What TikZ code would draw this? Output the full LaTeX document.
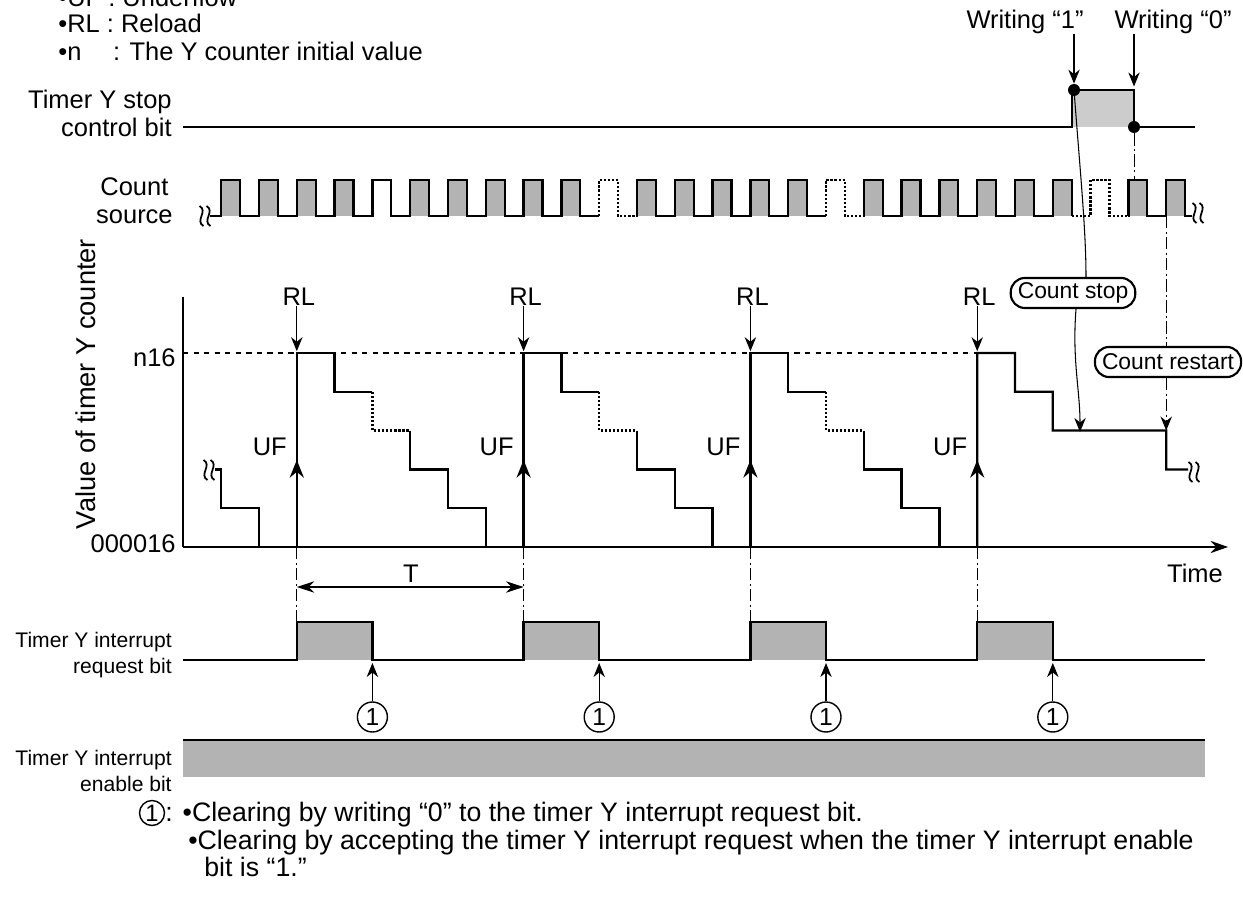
\documentclass[tikz,border=0pt]{standalone}
\usepackage{fontspec}
\setmainfont{Liberation Sans}
\usetikzlibrary{arrows.meta,positioning,shapes}

\definecolor{pulsegray}{HTML}{B3B3B3}
\definecolor{stopgray}{HTML}{CCCCCC}

\tikzset{
  sig/.style={line width=1.3pt},
  axis/.style={line width=0.6pt},
  dashdot/.style={line width=0.5pt,dash pattern=on 7pt off 2pt on 1pt off 2pt},
  arr/.style={line width=0.6pt,-{Stealth[length=8pt,width=6.5pt]}},
  uparr/.style={line width=1.3pt,-{Stealth[length=10pt,width=8pt]}},
  txt/.style={inner sep=0pt,font=\fontsize{14.5}{16}\selectfont},
  stxt/.style={inner sep=0pt,font=\fontsize{12}{15}\selectfont},
  ftxt/.style={inner sep=0pt,anchor=base west,font=\fontsize{15.2}{17}\selectfont},
  tag/.style={draw,rounded corners=8pt,line width=1.2pt,inner xsep=4pt,inner ysep=0pt,
    minimum height=0.6cm,font=\fontsize{13}{14}\selectfont},
  one/.style={draw,circle,line width=0.8pt,inner sep=0pt,minimum size=0.6cm,
    font=\fontsize{14}{14}\selectfont},
  dot/.style={circle,fill,inner sep=0pt,minimum size=0.24cm},
  brk/.pic={\foreach \dx in {-3.5,3.5}
    \draw[line width=1pt] (\dx-2,-10) .. controls (\dx+7,-5) and (\dx-7,5) .. (\dx+2,10);}
}

\begin{document}
\begin{tikzpicture}[x=0.02cm,y=-0.02cm]
\useasboundingbox (0,0) rectangle (1243,908);

% key
\node[txt,anchor=base west] (kuf) at (58,7) {•UF : Underflow};
\node[txt,anchor=base west] (krl) at (58,33) {•RL : Reload};
\node[txt,anchor=base west] (kn) at (58,61) {•\makebox[1.8em][l]{n}: The Y counter initial value};

% timer Y stop control bit
\node[txt,align=right,anchor=east] (lstop) at (172,113) {Timer Y stop\\control bit};
\fill[stopgray] (1072,90) rectangle (1134,127);
\draw[sig] (183,127) -- (1072,127) -- (1072,90) -- (1134,90) -- (1134,127) -- (1195,127);
\node[dot] (w1) at (1074,90) {};
\node[dot] (w0) at (1134,127) {};
\coordinate (s0) at (1134,90);
\node[txt] (wr1) at (1025,22) {Writing “1”};
\node[txt] (wr0) at (1173,22) {Writing “0”};
\draw[arr] (wr1.south -| w1) -- (w1.north);
\draw[arr,shorten >=2pt] (wr0.south -| s0) -- (s0);

% count source
\node[txt,align=center,anchor=east] (lsrc) at (173,201) {Count\\source};
\foreach \k in {0,1,2,3,5,6,7,8,9,11,12,13,14,15,17,18,19,20,21,22,24,25}
  \fill[pulsegray] ({221.2+37.8*\k},180) rectangle ++(18.9,36);
\draw[sig] (210,216) \foreach \k in {0,...,9} {
  -- ({221.2+37.8*\k},216) -- ++(0,-36) -- ++(18.9,0) -- ++(0,36) } -- (599.2,216);
\draw[sig,densely dotted] (599.2,216) -- ++(0,-36) -- ++(18.9,0) -- ++(0,36) -- (637,216);
\draw[sig] (637,216) \foreach \k in {11,...,15} {
  -- ({221.2+37.8*\k},216) -- ++(0,-36) -- ++(18.9,0) -- ++(0,36) } -- (826,216);
\draw[sig,densely dotted] (826,216) -- ++(0,-36) -- ++(18.9,0) -- ++(0,36) -- (863.8,216);
\draw[sig] (863.8,216) \foreach \k in {17,...,22} {
  -- ({221.2+37.8*\k},216) -- ++(0,-36) -- ++(18.9,0) -- ++(0,36) };
\draw[sig,densely dotted] (1071.7,216) -- (1090.6,216) -- ++(0,-36) -- ++(18.9,0) -- ++(0,36) -- (1128.4,216);
\draw[sig] (1128.4,216) \foreach \k in {24,25} {
  -- ({221.2+37.8*\k},216) -- ++(0,-36) -- ++(18.9,0) -- ++(0,36) } -- (1192,216);
\pic at (205,216) {brk};
\pic at (1198,213) {brk};

% counter value
\node[inner sep=0pt,font=\fontsize{15.5}{16}\selectfont,rotate=90] (lval) at (86,384) {Value of timer Y counter};
\node[txt,anchor=east] (ln) at (176,358) {n16};
\node[txt,anchor=east] (lz) at (176,544) {000016};
\node[txt] (ltime) at (1195,573) {Time};
\draw[axis] (183,297) -- (183,547);
\draw[axis,-{Stealth[length=10pt,width=7pt]}] (183,547) -- (1228,547);
\draw[axis,dashed] (183,353) -- (977,353);

\pic at (209,470) {brk};
\draw[sig] (215,469.4) -- (221.2,469.4) -- (221.2,508.2) -- (259,508.2) -- (259,547) -- (296.8,547);
\foreach \u in {296.8,523.6,750.4} {
  \draw[sig] (\u,547) -- ++(0,-194) -- ++(37.8,0) -- ++(0,38.8) -- ++(37.8,0);
  \draw[sig,densely dotted] (\u+75.6,391.8) -- ++(0,38.8) -- ++(37.8,0);
  \draw[sig] (\u+113.4,430.6) -- ++(0,38.8) -- ++(37.8,0) -- ++(0,38.8) -- ++(37.8,0)
    -- ++(0,38.8) -- ++(37.8,0);
}
\draw[sig] (977.2,547) -- ++(0,-194) -- ++(37.8,0) -- ++(0,38.8) -- ++(37.8,0) -- ++(0,38.8)
  -- (1166.2,430.6) -- ++(0,38.8) -- (1188,469.4);
\pic at (1194,472) {brk};

\foreach \u [count=\i] in {296.8,523.6,750.4,977.2} {
  \coordinate (top\i) at (\u,353);
  \coordinate (uf\i) at (\u,460);
  \node[txt] (rl\i) at (\u+2,297) {RL};
  \node[txt] (ufl\i) at (\u-27,447) {UF};
  \draw[arr,shorten >=1pt] (rl\i.south -| top\i) -- (top\i);
  \draw[uparr] (\u,547) -- (uf\i);
}

% count stop / restart
\node[tag] (cstop) at (1073,293) {Count stop};
\coordinate (stoptip) at (1080,432);
\draw[axis] (w1.center) .. controls (1080,170) and (1086,230) .. ([xshift=0.26cm]cstop.north);
\draw[arr] ([xshift=0.06cm]cstop.south) .. controls (1072,360) and (1080,390) .. (stoptip);

\node[tag] (crest) at (1168,362) {Count restart};
\coordinate (rs0) at (1134,180);
\coordinate (rs1) at (1166.2,216);
\coordinate (resttip) at (1166.2,430.6);
\draw[dashdot] (w0) -- (rs0);
\draw[dashdot] (rs1) -- (rs1 |- crest.north);
\draw[dashdot,arr] (rs1 |- crest.south) -- (resttip);

% interrupt request bit
\node[stxt,align=right,anchor=east] (lreq) at (172,655) {Timer Y interrupt\\request bit};
\foreach \u [count=\i] in {296.8,523.6,750.4,977.2} {
  \draw[dashdot] (\u,547) -- (\u,622);
  \fill[pulsegray] (\u,622) rectangle ++(75.6,38);
  \node[one] (c\i) at (\u+75.6,717) {1};
  \coordinate (clr\i) at (\u+75.6,663);
  \draw[arr] (c\i) -- (clr\i);
}
\draw[sig] (183,660) \foreach \u in {296.8,523.6,750.4,977.2} {
  -- (\u,660) -- ++(0,-38) -- ++(75.6,0) -- ++(0,38) } -- (1205,660);

\coordinate (ta) at (296.8,587);
\coordinate (tb) at (523.6,587);
\draw[axis,{Stealth[length=10pt,width=6.5pt]}-{Stealth[length=10pt,width=6.5pt]}] (ta) -- (tb);
\node[txt] (lt) at (411,574) {T};

% interrupt enable bit
\node[stxt,align=right,anchor=east] (len) at (172,771) {Timer Y interrupt\\enable bit};
\fill[pulsegray] (183,740) rectangle (1205,777);
\draw[sig] (183,740) -- (1205,740);

% note
\node[one,minimum size=0.5cm,font=\fontsize{13.5}{13.5}\selectfont] (fn) at (152,813) {1};
\node[ftxt] (fn1) at (165,821) {: •Clearing by writing “0” to the timer Y interrupt request bit.};
\node[ftxt] (fn2) at (188,849) {•Clearing by accepting the timer Y interrupt request when the timer Y interrupt enable};
\node[ftxt] (fn3) at (204,876) {bit is “1.”};
\end{tikzpicture}
\end{document}
